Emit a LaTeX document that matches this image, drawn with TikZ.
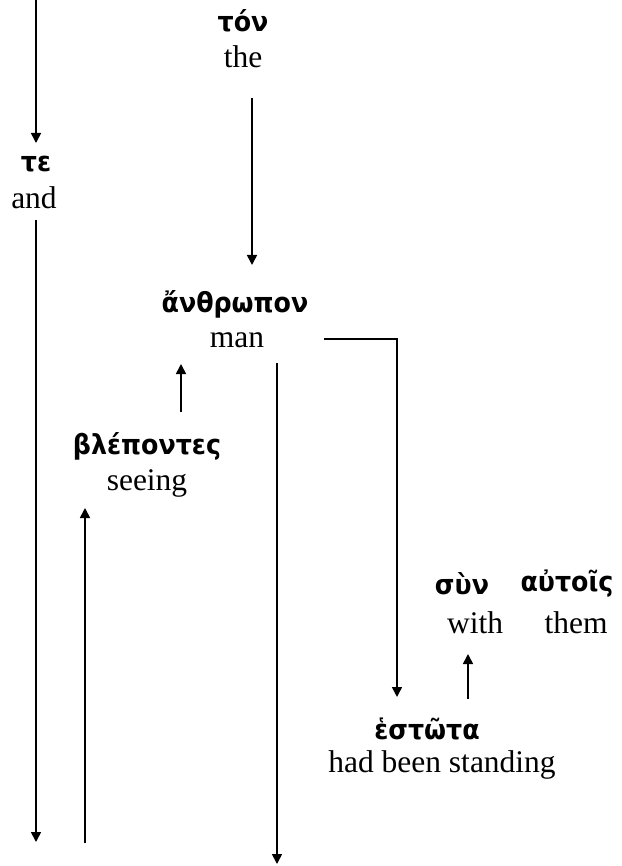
\documentclass[tikz,border=0pt]{standalone}
\usepackage{fontspec}
\setmainfont{Liberation Serif}
\newfontfamily\gkfam{DejaVu Sans}[FakeStretch=0.92]
\usetikzlibrary{arrows.meta}
\newcommand\gkfont{\gkfam\bfseries\fontsize{27.5}{32}\selectfont}
\newcommand\enfont{\fontsize{31.5}{36}\selectfont}
\begin{document}
\begin{tikzpicture}[x=1pt,y=-1pt,
  gk/.style={font=\gkfont, inner sep=0pt},
  en/.style={font=\enfont, inner sep=0pt},
  arr/.style={line width=1.6pt,-{Triangle[width=10pt,length=10pt]}},
  ln/.style={line width=1.6pt}]
\useasboundingbox (0,0) rectangle (621,866);
% words
\node[gk] (ton) at (243,21) {τόν};
\node[en] (the) at (243,57) {the};
\node[gk] (te) at (36,164) {τε};
\node[en] (and) at (34,198) {and};
\node[gk] (anthropon) at (235,304) {ἄνθρωπον};
\node[en] (man) at (237,340) {man};
\node[gk] (blepontes) at (147,446) {βλέποντες};
\node[en] (seeing) at (147,483) {seeing};
\node[gk] (syn) at (462,584) {σὺν};
\node[gk] (autois) at (567,584) {αὐτοῖς};
\node[en] (with) at (475,623) {with};
\node[en] (them) at (576,623) {them};
\node[gk] (hestota) at (427,729) {ἑστῶτα};
\node[en] (standing) at (442,765) {had been standing};
% connector ends
\coordinate (c1a) at (36,0);
\coordinate (c1b) at (36,143);
\coordinate (c2a) at (252,98);
\coordinate (c2b) at (252,265);
\coordinate (c3a) at (36,220);
\coordinate (c3b) at (36,842);
\coordinate (c4a) at (181,412);
\coordinate (c4b) at (181,364);
\coordinate (c5a) at (277,363);
\coordinate (c5b) at (277,864);
\coordinate (c6a) at (324,339);
\coordinate (c6m) at (397,339);
\coordinate (c6b) at (397,697);
\coordinate (c7a) at (85,843);
\coordinate (c7b) at (85,508);
\coordinate (c8a) at (468,699);
\coordinate (c8b) at (468,654);
% connectors
\draw[arr] (c1a) -- (c1b);
\draw[arr] (c2a) -- (c2b);
\draw[arr] (c3a) -- (c3b);
\draw[arr] (c4a) -- (c4b);
\draw[arr] (c5a) -- (c5b);
\draw[arr] (c6a) -- (c6m) -- (c6b);
\draw[arr] (c7a) -- (c7b);
\draw[arr] (c8a) -- (c8b);
\end{tikzpicture}
\end{document}
